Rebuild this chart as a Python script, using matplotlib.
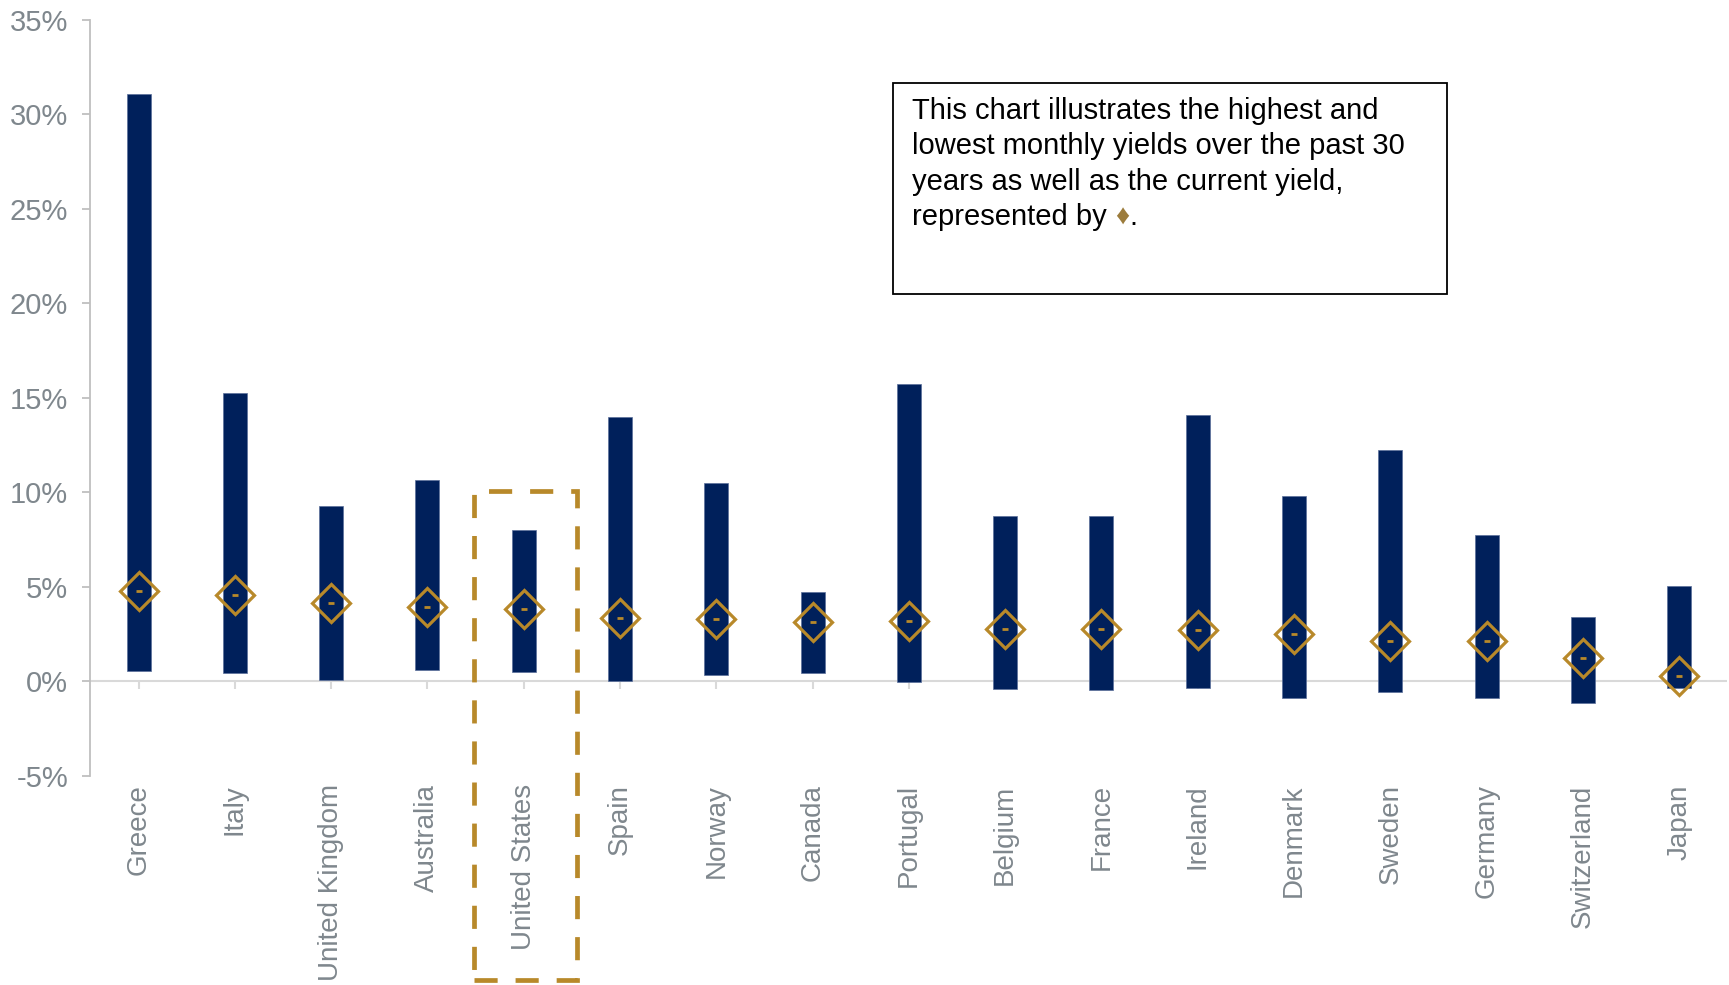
import numpy as np
import matplotlib.pyplot as plt
from matplotlib.patches import Rectangle

plt.rcParams['font.family'] = ['Liberation Sans', 'DejaVu Sans']

# 30-year monthly yield range and current yield (%)
countries = ["Greece", "Italy", "United Kingdom", "Australia", "United States",
             "Spain", "Norway", "Canada", "Portugal", "Belgium", "France",
             "Ireland", "Denmark", "Sweden", "Germany", "Switzerland", "Japan"]
highs = [31.06, 15.25, 9.28, 10.68, 8.04, 14.02, 10.51, 4.71, 15.75,
         8.77, 8.73, 14.09, 9.81, 12.24, 7.77, 3.42, 5.07]
lows = [0.55, 0.46, 0.07, 0.62, 0.51, 0.0, 0.32, 0.44, -0.05,
        -0.42, -0.44, -0.33, -0.86, -0.54, -0.88, -1.14, -0.32]
current = [4.81, 4.57, 4.14, 3.93, 3.85, 3.35, 3.30, 3.17, 3.19,
           2.80, 2.77, 2.71, 2.53, 2.15, 2.12, 1.23, 0.27]
yticks = [-5, 0, 5, 10, 15, 20, 25, 30, 35]
note_lines = ["This chart illustrates the highest and",
              "lowest monthly yields over the past 30",
              "years as well as the current yield,"]

navy = "#00205b"
gold = "#b8892a"
grey_txt = "#7f878d"

fig = plt.figure(figsize=(17.29, 9.85), dpi=100)
ax = fig.add_axes([0.0523, 0.2122, 0.9467, 0.7675])

x = np.arange(len(countries))
hi = np.array(highs)
lo = np.array(lows)
ax.bar(x, hi - lo, bottom=lo, width=0.25, color=navy, edgecolor="#5a6f9a", linewidth=0.5, zorder=3)

# zero line with small downward ticks
ax.axhline(0, color="#d9d9d9", lw=1.5, zorder=1)
ax.plot(x, np.zeros(len(x)), ls="none", marker=3, markersize=6, color="#d9d9d9", mew=1.5, zorder=1)

# current yield markers
ax.plot(x, current, ls="none", marker="D", markersize=19, mfc="none", mec=gold, mew=2.3, zorder=4)
ax.plot(x, current, ls="none", marker="_", markersize=4, color=gold, mew=2, zorder=4)

ax.set_xlim(-0.5, len(countries) - 0.5)
ax.set_ylim(-5, 35)
ax.set_yticks(yticks)
ax.set_yticklabels([f"{t}%" for t in yticks])
ax.set_xticks(x)
ax.set_xticklabels(countries, rotation=90, va="top", ha="center")

for s in ["top", "right", "bottom"]:
    ax.spines[s].set_visible(False)
ax.spines["left"].set_color("#bfbfbf")
ax.spines["left"].set_linewidth(1.3)
ax.tick_params(axis="y", colors="#bfbfbf", length=6, width=1.3, pad=10, labelsize=21, labelcolor=grey_txt)
ax.tick_params(axis="x", length=0, pad=6, labelsize=20, labelcolor=grey_txt)

# highlight box around United States
ax.add_patch(Rectangle((3.48, -15.8), 1.07, 25.9, fill=False, ec=gold, lw=3.4,
                       ls=(0, (4.9, 3.8)), clip_on=False, zorder=5))

# explanatory note
fig.patches.append(Rectangle((0.5165, 0.7015), 0.3204, 0.2142, transform=fig.transFigure,
                             fill=False, ec="black", lw=1.3))
baselines = [0.8792, 0.8434, 0.8075]
for line, yb in zip(note_lines, baselines):
    fig.text(0.5275, yb, line, fontsize=21, va="baseline", ha="left")
t = fig.text(0.5275, 0.7716, "represented by ", fontsize=21, va="baseline", ha="left")
d = ax.annotate("\u2666", xy=(1, 0), xycoords=t, va="bottom", ha="left",
                fontsize=20, color="#9c7c3c", annotation_clip=False)
ax.annotate(".", xy=(1, 0), xycoords=d, va="bottom", ha="left", fontsize=21, annotation_clip=False)

fig.savefig("out.png", dpi=100)
